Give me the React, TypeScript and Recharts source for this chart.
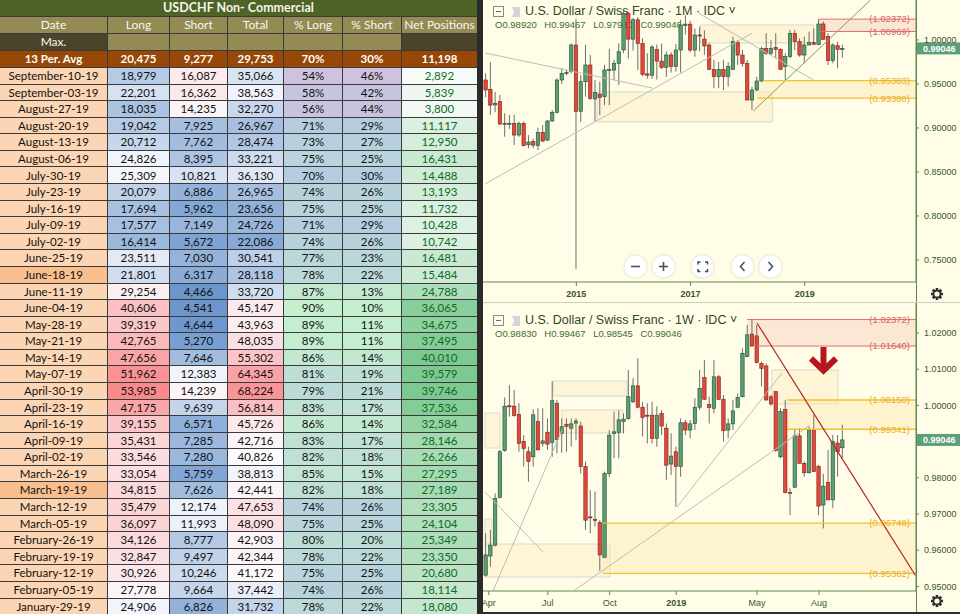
import React from 'react'
import { Bar, ComposedChart, ReferenceArea, ReferenceDot, ReferenceLine, XAxis, YAxis } from 'recharts'

// ---- COT table (USDCHF non-commercial) ----
const tableTitle = 'USDCHF Non- Commercial'
const tableHeaders = ['Date', 'Long', 'Short', 'Total', '% Long', '% Short', 'Net Positions']
const avgRow = ['13 Per. Avg', '20,475', '9,277', '29,753', '70%', '30%', '11,198']
const tableDates = [
  'September-10-19', 'September-03-19', 'August-27-19', 'August-20-19', 'August-13-19', 'August-06-19',
  'July-30-19', 'July-23-19', 'July-16-19', 'July-09-19', 'July-02-19', 'June-25-19', 'June-18-19',
  'June-11-19', 'June-04-19', 'May-28-19', 'May-21-19', 'May-14-19', 'May-07-19', 'April-30-19',
  'April-23-19', 'April-16-19', 'April-09-19', 'April-02-19', 'March-26-19', 'March-19-19', 'March-12-19',
  'March-05-19', 'February-26-19', 'February-19-19', 'February-12-19', 'February-05-19', 'January-29-19',
]
const markedDates = ['June-18-19', 'March-19-19']
const longVals = [18979, 22201, 18035, 19042, 20712, 24826, 25309, 20079, 17694, 17577, 16414, 23511, 21801, 29254, 40606, 39319, 42765, 47656, 51962, 53985, 47175, 39155, 35431, 33546, 33054, 34815, 35479, 36097, 34126, 32847, 30926, 27778, 24906]
const shortVals = [16087, 16362, 14235, 7925, 7762, 8395, 10821, 6886, 5962, 7149, 5672, 7030, 6317, 4466, 4541, 4644, 5270, 7646, 12383, 14239, 9639, 6571, 7285, 7280, 5759, 7626, 12174, 11993, 8777, 9497, 10246, 9664, 6826]
const totalVals = [35066, 38563, 32270, 26967, 28474, 33221, 36130, 26965, 23656, 24726, 22086, 30541, 28118, 33720, 45147, 43963, 48035, 55302, 64345, 68224, 56814, 45726, 42716, 40826, 38813, 42441, 47653, 48090, 42903, 42344, 41172, 37442, 31732]
const pctLong = [54, 58, 56, 71, 73, 75, 70, 74, 75, 71, 74, 77, 78, 87, 90, 89, 89, 86, 81, 79, 83, 86, 83, 82, 85, 82, 74, 75, 80, 78, 75, 74, 78]
const pctShort = [46, 42, 44, 29, 27, 25, 30, 26, 25, 29, 26, 23, 22, 13, 10, 11, 11, 14, 19, 21, 17, 14, 17, 18, 15, 18, 26, 25, 20, 22, 25, 26, 22]
const netVals = [2892, 5839, 3800, 11117, 12950, 16431, 14488, 13193, 11732, 10428, 10742, 16481, 15484, 24788, 36065, 34675, 37495, 40010, 39579, 39746, 37536, 32584, 28146, 26266, 27295, 27189, 23305, 24104, 25349, 23350, 20680, 18114, 18080]

// ---- USDCHF monthly, Jun 2013 .. Sep 2019: [open, high, low, close] ----
const monthlyCandles = [
  [0.9545, 0.962, 0.935, 0.9432], [0.944, 0.975, 0.915, 0.926], [0.9262, 0.941, 0.918, 0.928], [0.93, 0.9375, 0.9034, 0.9045],
  [0.9052, 0.9167, 0.8901, 0.9048], [0.905, 0.915, 0.899, 0.9054], [0.9053, 0.9148, 0.8807, 0.892], [0.892, 0.9072, 0.89, 0.9053],
  [0.9053, 0.9075, 0.879, 0.8799], [0.881, 0.892, 0.8769, 0.884], [0.8845, 0.888, 0.877, 0.8805], [0.88, 0.9004, 0.875, 0.8951],
  [0.8951, 0.9034, 0.884, 0.8852], [0.8863, 0.909, 0.885, 0.908], [0.908, 0.9205, 0.907, 0.9178], [0.9178, 0.9565, 0.9165, 0.9545],
  [0.9545, 0.968, 0.95, 0.9621], [0.962, 0.966, 0.96, 0.963], [0.964, 0.996, 0.962, 0.9943], [0.9943, 1.024, 0.74, 0.9186],
  [0.919, 0.96, 0.907, 0.9526], [0.9526, 0.9943, 0.9356, 0.9716], [0.9716, 0.983, 0.932, 0.9337], [0.933, 0.9545, 0.9072, 0.9405],
  [0.9386, 0.9526, 0.9148, 0.9348], [0.9356, 0.9716, 0.926, 0.9659], [0.9659, 0.99, 0.926, 0.9665], [0.9659, 0.9773, 0.9545, 0.9735],
  [0.9735, 0.9962, 0.9489, 0.9867], [0.9887, 1.034, 0.985, 1.03], [1.03, 1.032, 0.979, 1.001], [1.001, 1.025, 0.988, 1.023],
  [1.023, 1.026, 0.966, 0.996], [0.996, 1.002, 0.959, 0.961], [0.9615, 0.985, 0.956, 0.96], [0.96, 0.994, 0.956, 0.992],
  [0.989, 0.995, 0.955, 0.976], [0.976, 0.996, 0.967, 0.969], [0.969, 0.987, 0.958, 0.983], [0.983, 0.986, 0.963, 0.97],
  [0.97, 0.9955, 0.964, 0.9886], [0.9886, 1.023, 0.963, 1.0171], [1.0165, 1.028, 1.006, 1.018], [1.018, 1.022, 0.986, 0.9886],
  [0.9886, 1.013, 0.981, 1.0057], [1.0057, 1.015, 0.987, 1.0045], [1.001, 1.011, 0.983, 0.9932], [0.9943, 0.9962, 0.9659, 0.9666],
  [0.9666, 0.9773, 0.9451, 0.9583], [0.9583, 0.975, 0.945, 0.9666], [0.9666, 0.9773, 0.943, 0.9583], [0.9583, 0.975, 0.947, 0.9697],
  [0.9666, 1.0038, 0.9659, 0.9981], [0.997, 1.0, 0.9716, 0.9829], [0.9829, 0.9886, 0.9697, 0.9735], [0.9735, 0.9773, 0.9318, 0.9318],
  [0.9318, 0.947, 0.9205, 0.9432], [0.9432, 0.9583, 0.942, 0.9534], [0.9534, 0.9924, 0.9525, 0.9905], [0.9905, 1.0076, 0.9829, 0.9848],
  [0.9848, 0.9998, 0.983, 0.9905], [0.9916, 1.0076, 0.979, 0.9894], [0.9894, 0.9905, 0.966, 0.9666], [0.9697, 0.9848, 0.9545, 0.9811],
  [0.9811, 1.0114, 0.9792, 1.0076], [1.0076, 1.0114, 0.9886, 0.9981], [0.9981, 1.002, 0.981, 0.9829], [0.9829, 1.0038, 0.9735, 0.9943],
  [0.9943, 1.0095, 0.9943, 0.997], [0.997, 1.0133, 0.9943, 0.995], [0.995, 1.02372, 0.9943, 1.0182], [1.0182, 1.021, 1.0, 1.0008],
  [1.0038, 1.0076, 0.9716, 0.9765], [0.9765, 0.9962, 0.9735, 0.9943], [0.9935, 0.9981, 0.9678, 0.9894], [0.9892, 0.99467, 0.9798, 0.99046],
]

// ---- USDCHF weekly, Apr 2018 .. Sep 2019: [open, high, low, close] ----
const weeklyCandles = [
  [0.9531, 0.9647, 0.9527, 0.9587], [0.9584, 0.9656, 0.9554, 0.9614], [0.9614, 0.9757, 0.961, 0.9743], [0.9746, 0.9877, 0.9743, 0.9872],
  [0.9875, 1.0022, 0.9872, 0.9998], [0.9999, 1.0056, 0.9969, 0.9996], [0.9998, 1.0043, 0.9969, 0.9972], [0.9975, 1.0006, 0.9872, 0.9895],
  [0.99, 0.9918, 0.9831, 0.9881], [0.9872, 0.9886, 0.9789, 0.9845], [0.9858, 0.9989, 0.9831, 0.9974], [0.9955, 0.9992, 0.9877, 0.9877],
  [0.9895, 0.9992, 0.9886, 0.9902], [0.9926, 0.9964, 0.9877, 0.9893], [0.9897, 1.0067, 0.9858, 1.0013], [1.0006, 1.0015, 0.9868, 0.9906],
  [0.9923, 0.9964, 0.9869, 0.9941], [0.9948, 0.9964, 0.9872, 0.9942], [0.9937, 0.9964, 0.9886, 0.9949], [0.9951, 0.9964, 0.9904, 0.9957],
  [0.9943, 0.9955, 0.9812, 0.9831], [0.9831, 0.9845, 0.9656, 0.9683], [0.9692, 0.9766, 0.9647, 0.969], [0.9685, 0.9762, 0.9665, 0.9682],
  [0.9676, 0.9683, 0.9543, 0.9587], [0.958, 0.9817, 0.958, 0.9812], [0.9812, 0.9932, 0.9803, 0.9918], [0.9922, 0.9983, 0.9854, 0.9927],
  [0.9925, 0.9987, 0.9854, 0.996], [0.9955, 0.9978, 0.9923, 0.9962], [0.9964, 1.0098, 0.996, 1.0024], [1.001, 1.0075, 1.0006, 1.0054],
  [1.0054, 1.013, 0.9992, 0.9995], [0.9995, 1.001, 0.9914, 0.9967], [0.9973, 1.0006, 0.9895, 0.9971], [0.9973, 1.001, 0.9895, 0.9909],
  [0.9909, 0.9997, 0.9886, 0.9973], [0.9978, 0.9987, 0.9918, 0.9943], [0.9937, 0.995, 0.9794, 0.9835], [0.9838, 0.9923, 0.9808, 0.986],
  [0.9872, 0.9886, 0.972, 0.9831], [0.9831, 0.9964, 0.9803, 0.9952], [0.9952, 0.996, 0.9918, 0.9932], [0.9932, 0.996, 0.9909, 0.9949],
  [0.995, 1.002, 0.9932, 0.9995], [0.9995, 1.0098, 0.9987, 1.0047], [1.0077, 1.0125, 1.0015, 1.0017], [1.0003, 1.0024, 0.995, 0.9994],
  [0.9992, 1.0125, 0.9978, 1.0079], [1.0079, 1.0084, 1.0015, 1.0017], [1.0017, 1.0029, 0.99, 0.993], [0.9932, 0.9964, 0.9909, 0.9949],
  [0.9949, 1.0015, 0.9932, 0.9985], [0.9995, 1.0033, 0.9992, 1.0022], [1.0024, 1.0158, 1.0022, 1.0144], [1.0135, 1.0222, 1.0133, 1.0195],
  [1.0197, 1.02372, 1.0162, 1.0164], [1.0192, 1.0222, 1.0116, 1.0118], [1.0116, 1.0121, 1.0052, 1.0102], [1.0109, 1.0116, 1.0013, 1.0015],
  [1.0024, 1.0029, 0.9999, 1.0004], [1.0038, 1.0038, 0.9872, 0.9875], [0.9858, 0.9992, 0.9854, 0.9983], [0.9989, 1.0015, 0.9757, 0.9759],
  [0.976, 0.9771, 0.9697, 0.9758], [0.9774, 0.9934, 0.9771, 0.9916], [0.9916, 0.9937, 0.984, 0.984], [0.984, 0.9845, 0.9803, 0.9814],
  [0.9814, 0.9941, 0.9812, 0.9932], [0.9932, 0.9974, 0.9817, 0.9817], [0.9832, 0.9835, 0.9697, 0.9722], [0.9725, 0.9811, 0.966, 0.9777],
  [0.9787, 0.9877, 0.9739, 0.9739], [0.9739, 0.9918, 0.9716, 0.99], [0.9896, 0.9918, 0.9803, 0.9872], [0.9883, 0.99467, 0.98545, 0.99046],
]

const monthlyTicks = [19, 43, 67]
const monthlyTickLabels = ['2015', '2017', '2019']
const weeklyTicks = [0.6, 13, 26, 40, 57, 70]
const weeklyTickLabels = ['Apr', 'Jul', 'Oct', '2019', 'May', 'Aug']
const monthlyPriceTicks = [0.75, 0.8, 0.85, 0.9, 0.95, 1.0]
// 0.99 sits under the last-price tag in the weekly pane, so it is not shown
const weeklyPriceTicks = [0.95, 0.96, 0.97, 0.98, 1.0, 1.01, 1.02]
const lastPrice = 0.99046

// fib levels: [price, start index]
const monthlyRedLevels = [[1.02372, 69.9], [1.00969, 69.9]]
const monthlyYellowLevels = [[0.95383, 58.3], [0.93388, 57.05]]
const weeklyRedLevels = [[1.02372, 54.9], [1.0164, 57.0]]
const weeklyYellowLevels = [[1.0015, 63.3], [0.99341, 63.3]]
const weeklyLowYellowLevels = [[0.96748, 24.6], [0.95362, 24.6]]

// drawings: lines [x1, y1, x2, y2], boxes [x1, x2, y1, y2]
const monthlyLines = [[-0.2, 0.98523, 34.95, 0.94545], [-0.2, 0.83636, 56.0, 1.00795], [44.63, 1.03068, 68.84, 0.95455]]
const monthlyGreenLine = [56.21, 0.91932, 80.84, 1.04545]
const monthlyBoxes = [[23.37, 60.21, 0.94091, 0.90682], [45.05, 68.84, 1.01705, 0.99659]]
const weeklyLines = [[1.47, 0.94873, 15.98, 0.9932], [-0.2, 0.97608, 11.99, 0.9595], [18.71, 0.94901, 68.12, 0.99459], [40.16, 0.97193, 62.24, 1.00895]]
const weeklyRedLine = [56.98, 1.02276, 90.3, 0.953]
const weeklyBoxes = [[60.13, 74.01, 1.00978, 1.00039], [-0.2, 26.07, 0.96171, 0.9526], [-0.2, 2.94, 0.9979, 0.98823], [14.09, 29.65, 1.00674, 1.0026], [15.98, 28.81, 0.99873, 0.99238], [-0.2, 1.26, 0.96862, 0.96171]]
const weeklyArrow = [70.96, 1.01268]

const X_DOMAIN = [-0.63, 90.41]
const BG = '#fffde7'
const AXIS = '#5b8c4a'
const AXIS_TEXT = '#3a5528'
const TV_FONT = '"Liberation Sans", Arial, sans-serif'
const UP = '#5b9e72'
const DOWN = '#e3493b'

const toRows = (rows: number[][]) => rows.map(([o, h, l, c], i) => ({ i, o, h, l, c, range: [l, h] }))

function Candle(props: any) {
  const { x, y, width, height, payload } = props
  if (!payload) return null
  const { o, h, l, c } = payload
  const k = height / Math.max(h - l, 1e-9)
  const cx = x + width / 2
  const yo = y + (h - o) * k
  const yc = y + (h - c) * k
  const up = c >= o
  const top = Math.min(yo, yc)
  const bh = Math.max(1, Math.abs(yo - yc))
  return (
    <g>
      <line x1={cx} x2={cx} y1={y} y2={y + height} stroke="#6f6f6f" strokeWidth={1} />
      <rect x={cx - 1.7} y={top} width={3.4} height={bh} fill={up ? UP : DOWN} stroke={up ? '#1e4d2e' : '#7a1f16'} strokeWidth={0.6} />
    </g>
  )
}

const makeXTick = (ticks: number[], labels: string[]) => (props: any) => {
  const { x, y, payload } = props
  const label = labels[ticks.indexOf(payload.value)] ?? ''
  const bold = /^\d{4}$/.test(label)
  return (
    <text x={x} y={y + 9} textAnchor="middle" fill={AXIS_TEXT} fontSize={9} fontWeight={bold ? 700 : 400} fontFamily={TV_FONT}>
      {label}
    </text>
  )
}

const priceTag = (props: any) => {
  const vb = props.viewBox
  if (!vb) return null
  const x = vb.x + vb.width
  return (
    <g>
      <rect x={x + 1} y={vb.y - 6} width={44} height={12} fill="#5f9e7b" />
      <text x={x + 7} y={vb.y + 3.3} fill="#ffffff" fontSize={9} fontWeight={700} fontFamily={TV_FONT}>
        {lastPrice.toFixed(5)}
      </text>
    </g>
  )
}

const arrowShape = (props: any) => {
  const { cx, cy } = props
  return (
    <g fill="none" stroke="#b5171c" strokeWidth={6}>
      <line x1={cx} x2={cx} y1={cy - 12.5} y2={cy + 8} />
      <polyline points={`${cx - 12.5},${cy - 1} ${cx},${cy + 11} ${cx + 12.5},${cy - 1}`} strokeLinejoin="miter" />
    </g>
  )
}

const levelLabel = (text: string, fill: string) => ({ value: `(${text})`, position: 'insideRight' as const, offset: 6, fill, fontSize: 9.5, fontFamily: TV_FONT })

// ---- table ----
const hex = (h: string) => [1, 3, 5].map((s) => parseInt(h.slice(s, s + 2), 16))
function mix(a: string, b: string, t: number) {
  const A = hex(a)
  const B = hex(b)
  const u = Math.max(0, Math.min(1, t))
  return `rgb(${A.map((v, i) => Math.round(v + (B[i] - v) * u)).join(',')})`
}
function scale3(v: number, lo: number, mid: number, hi: number, cLo: string, cMid: string, cHi: string) {
  return v < mid ? mix(cMid, cLo, (mid - v) / (mid - lo)) : mix(cMid, cHi, (v - mid) / (hi - mid))
}
const BLUE = '#5a8ac6'
const WHITE = '#fcfcff'
const RED = '#f8696b'
const PURPLE = '#d4c0de'
const GREYBLUE = '#b4cbe0'
const GREEN = '#c6efce'

const colW = [107, 61, 57, 55, 58, 58, 75]
const fmt = (v: number) => v.toLocaleString('en-US')

function Cell({ bg, color = '#111', bold = false, span = 1, size = 11.5, children }: any) {
  return (
    <div
      style={{
        background: bg,
        color,
        fontWeight: bold ? 700 : 400,
        gridColumn: span > 1 ? `span ${span}` : undefined,
        display: 'flex',
        alignItems: 'center',
        justifyContent: 'center',
        textAlign: 'center',
        fontSize: size,
        fontFamily: 'Lato, "Noto Sans", sans-serif',
        lineHeight: 1,
        whiteSpace: 'nowrap',
        overflow: 'hidden',
      }}
    >
      {children}
    </div>
  )
}

function CotTable() {
  return (
    <div
      style={{
        position: 'absolute',
        left: 0,
        top: 0,
        width: 477,
        height: 614,
        overflow: 'hidden',
        display: 'grid',
        gridTemplateColumns: colW.map((w) => `${w}px`).join(' '),
        gridTemplateRows: `16px 16px 16px 16px repeat(${tableDates.length}, 15.59px)`,
        gap: 1,
        background: '#3a3a3a',
      }}
    >
      <Cell bg="#4f6228" color="#f4f4e8" bold span={7} size={12.5}>{tableTitle}</Cell>
      {tableHeaders.map((h) => (
        <Cell key={h} bg="#948a54" color="#f7f7f0" size={12}>{h}</Cell>
      ))}
      <Cell bg="#4a452a" color="#f7f7f0" size={12}>Max.</Cell>
      {[0, 1, 2, 3, 4].map((k) => (
        <Cell key={k} bg="#948a54" />
      ))}
      <Cell bg="#4a452a" />
      {avgRow.map((v, k) => (
        <Cell key={k} bg="#974706" color="#ffffff" bold>{v}</Cell>
      ))}
      {tableDates.map((d, r) => (
        <React.Fragment key={d}>
          <Cell bg={markedDates.includes(d) ? '#f9bf8f' : '#fcd5b4'}>{d}</Cell>
          <Cell bg={scale3(longVals[r], 10000, 26000, 62000, BLUE, WHITE, RED)}>{fmt(longVals[r])}</Cell>
          <Cell bg={scale3(shortVals[r], 3500, 13000, 38000, BLUE, WHITE, RED)}>{fmt(shortVals[r])}</Cell>
          <Cell bg={scale3(totalVals[r], 15000, 40500, 80000, BLUE, WHITE, RED)}>{fmt(totalVals[r])}</Cell>
          <Cell bg={scale3(pctLong[r], 50, 70, 90, PURPLE, GREYBLUE, GREEN)}>{pctLong[r]}%</Cell>
          <Cell bg={scale3(pctShort[r], 10, 30, 50, GREEN, GREYBLUE, PURPLE)}>{pctShort[r]}%</Cell>
          <Cell bg={mix('#ffffff', '#63be7b', netVals[r] / 48000)} color="#0b6b23">{fmt(netVals[r])}</Cell>
        </React.Fragment>
      ))}
    </div>
  )
}

// ---- chart chrome ----
function PaneHeader({ top, interval, ohlc }: { top: number; interval: string; ohlc: number[] }) {
  const [o, h, l, c] = ohlc
  return (
    <>
      <svg style={{ position: 'absolute', left: 493, top: top + 3 }} width={30} height={12}>
        <rect x={0.5} y={0.5} width={10} height={10} fill="none" stroke="#8a8a8a" />
        <line x1={3} x2={8} y1={5.5} y2={5.5} stroke="#6a6a6a" />
        <polygon points="19,1 27,1 27,11 19,11 21,6" fill="#d4d4dc" />
      </svg>
      <div style={{ position: 'absolute', left: 525, top, fontFamily: TV_FONT, fontSize: 12.5, color: '#33461f', whiteSpace: 'nowrap', lineHeight: '16px' }}>
        U.S. Dollar / Swiss Franc · {interval} · IDC ˅
      </div>
      <div style={{ position: 'absolute', left: 495, top: top + 15, fontFamily: TV_FONT, fontSize: 9.5, color: '#3e6b2f', whiteSpace: 'nowrap', wordSpacing: 5, lineHeight: '14px' }}>
        O{o.toFixed(5)} H{h.toFixed(5)} L{l.toFixed(5)} C{c.toFixed(5)}
      </div>
    </>
  )
}

function Gear({ left, top }: { left: number; top: number }) {
  return (
    <svg style={{ position: 'absolute', left, top }} width={14} height={14} viewBox="-7 -7 14 14">
      {[0, 45, 90, 135].map((a) => (
        <rect key={a} x={-1.3} y={-6} width={2.6} height={12} fill="#2e2e2e" transform={`rotate(${a})`} />
      ))}
      <circle r={4.3} fill="#2e2e2e" />
      <circle r={2.6} fill={BG} />
    </svg>
  )
}

function NavButtons() {
  const items = [635, 663, 702, 742, 770]
  const icons = [
    <line key="m" x1={7} x2={16} y1={11.5} y2={11.5} />,
    <g key="p"><line x1={7} x2={16} y1={11.5} y2={11.5} /><line x1={11.5} x2={11.5} y1={7} y2={16} /></g>,
    <path key="f" d="M7 9.5V7h2.5M14 7h2.5v2.5M16.5 14v2.5H14M9.5 16.5H7V14" />,
    <polyline key="l" points="13.5,7 9.5,11.5 13.5,16" />,
    <polyline key="r" points="9.5,7 13.5,11.5 9.5,16" />,
  ]
  return (
    <>
      {items.map((cx, k) => (
        <svg key={cx} style={{ position: 'absolute', left: cx - 11.5, top: 254.5, filter: 'drop-shadow(0 0 1.5px rgba(0,0,0,0.18))' }} width={23} height={23}>
          <circle cx={11.5} cy={11.5} r={11} fill="#ffffff" />
          <g fill="none" stroke="#4a5262" strokeWidth={1.6}>{icons[k]}</g>
        </svg>
      ))}
    </>
  )
}

const RED_LABEL = '#dd5f5f'
const YELLOW_LABEL = '#eeac22'

export default function App() {
  const mData = toRows(monthlyCandles)
  const wData = toRows(weeklyCandles)
  const xMax = X_DOMAIN[1]
  return (
    <div style={{ position: 'absolute', left: 0, top: 0, width: 960, height: 614, overflow: 'hidden', background: '#2b2b2b' }}>
      <CotTable />
      <div style={{ position: 'absolute', left: 483, top: 0, width: 477, height: 612, background: BG }} />
      <PaneHeader top={3} interval="1M" ohlc={monthlyCandles[monthlyCandles.length - 1]} />
      <PaneHeader top={312} interval="1W" ohlc={weeklyCandles[weeklyCandles.length - 1]} />

      <div style={{ position: 'absolute', left: 480, top: 0 }}>
        <ComposedChart width={480} height={303} data={mData} margin={{ top: 0, right: 0, bottom: 0, left: 3 }}>
          <XAxis
            dataKey="i"
            type="number"
            domain={X_DOMAIN}
            allowDataOverflow
            ticks={monthlyTicks}
            interval={0}
            height={21}
            tickSize={4}
            axisLine={{ stroke: AXIS }}
            tickLine={{ stroke: AXIS }}
            tick={makeXTick(monthlyTicks, monthlyTickLabels)}
          />
          <YAxis
            orientation="right"
            width={44}
            domain={[0.725, 1.04545]}
            allowDataOverflow
            ticks={monthlyPriceTicks}
            tickFormatter={(v: number) => v.toFixed(5)}
            tickSize={3}
            tickMargin={5}
            axisLine={{ stroke: AXIS }}
            tickLine={{ stroke: AXIS }}
            tick={{ fill: AXIS_TEXT, fontSize: 9, fontFamily: TV_FONT }}
          />
          {monthlyBoxes.map(([x1, x2, y1, y2], k) => (
            <ReferenceArea key={`mb${k}`} x1={x1} x2={x2} y1={y1} y2={y2} fill="#fcefc6" fillOpacity={0.55} stroke="#d9d9cf" strokeWidth={1} ifOverflow="hidden" />
          ))}
          <ReferenceArea x1={monthlyRedLevels[0][1]} x2={xMax} y1={monthlyRedLevels[0][0]} y2={monthlyRedLevels[1][0]} fill="#f5d3c4" fillOpacity={0.55} stroke="none" ifOverflow="hidden" />
          <ReferenceArea x1={monthlyYellowLevels[1][1]} x2={xMax} y1={monthlyYellowLevels[0][0]} y2={monthlyYellowLevels[1][0]} fill="#fbe9b5" fillOpacity={0.5} stroke="none" ifOverflow="hidden" />
          {monthlyLines.map(([x1, y1, x2, y2], k) => (
            <ReferenceLine key={`ml${k}`} segment={[{ x: x1, y: y1 }, { x: x2, y: y2 }]} stroke="#bdbdb3" strokeWidth={1} ifOverflow="hidden" />
          ))}
          <ReferenceLine segment={[{ x: monthlyGreenLine[0], y: monthlyGreenLine[1] }, { x: monthlyGreenLine[2], y: monthlyGreenLine[3] }]} stroke="#79a05c" strokeWidth={1} ifOverflow="hidden" />
          {monthlyRedLevels.map(([p, s]) => (
            <ReferenceLine key={`mr${p}`} segment={[{ x: s, y: p }, { x: xMax, y: p }]} stroke="#e07070" strokeWidth={1} label={levelLabel(p.toFixed(5), RED_LABEL)} />
          ))}
          {monthlyYellowLevels.map(([p, s]) => (
            <ReferenceLine key={`my${p}`} segment={[{ x: s, y: p }, { x: xMax, y: p }]} stroke="#f2c233" strokeWidth={1.3} label={levelLabel(p.toFixed(5), YELLOW_LABEL)} />
          ))}
          <Bar dataKey="range" barSize={4} shape={Candle} isAnimationActive={false} />
          <ReferenceLine y={lastPrice} stroke="none" label={priceTag} />
        </ComposedChart>
      </div>

      <div style={{ position: 'absolute', left: 480, top: 303 }}>
        <ComposedChart width={480} height={311} data={wData} margin={{ top: 0, right: 0, bottom: 0, left: 3 }}>
          <XAxis
            dataKey="i"
            type="number"
            domain={X_DOMAIN}
            allowDataOverflow
            ticks={weeklyTicks}
            interval={0}
            height={23}
            tickSize={4}
            axisLine={{ stroke: AXIS }}
            tickLine={{ stroke: AXIS }}
            tick={makeXTick(weeklyTicks, weeklyTickLabels)}
          />
          <YAxis
            orientation="right"
            width={44}
            domain={[0.94873, 1.02829]}
            allowDataOverflow
            ticks={weeklyPriceTicks}
            tickFormatter={(v: number) => v.toFixed(5)}
            tickSize={3}
            tickMargin={5}
            axisLine={{ stroke: AXIS }}
            tickLine={{ stroke: AXIS }}
            tick={{ fill: AXIS_TEXT, fontSize: 9, fontFamily: TV_FONT }}
          />
          {weeklyBoxes.map(([x1, x2, y1, y2], k) => (
            <ReferenceArea key={`wb${k}`} x1={x1} x2={x2} y1={y1} y2={y2} fill="#fcefc6" fillOpacity={0.55} stroke="#d9d9cf" strokeWidth={1} ifOverflow="hidden" />
          ))}
          <ReferenceArea x1={weeklyRedLevels[0][1]} x2={xMax} y1={weeklyRedLevels[0][0]} y2={weeklyRedLevels[1][0]} fill="#f5d3c4" fillOpacity={0.5} stroke="none" ifOverflow="hidden" />
          <ReferenceArea x1={weeklyYellowLevels[0][1]} x2={xMax} y1={weeklyYellowLevels[0][0]} y2={weeklyYellowLevels[1][0]} fill="#fbe9b5" fillOpacity={0.5} stroke="none" ifOverflow="hidden" />
          <ReferenceArea x1={weeklyLowYellowLevels[0][1]} x2={xMax} y1={weeklyLowYellowLevels[0][0]} y2={weeklyLowYellowLevels[1][0]} fill="#fbe9b5" fillOpacity={0.5} stroke="none" ifOverflow="hidden" />
          {weeklyLines.map(([x1, y1, x2, y2], k) => (
            <ReferenceLine key={`wl${k}`} segment={[{ x: x1, y: y1 }, { x: x2, y: y2 }]} stroke="#bdbdb3" strokeWidth={1} ifOverflow="hidden" />
          ))}
          {weeklyRedLevels.map(([p, s]) => (
            <ReferenceLine key={`wr${p}`} segment={[{ x: s, y: p }, { x: xMax, y: p }]} stroke="#e07070" strokeWidth={1} label={levelLabel(p.toFixed(5), RED_LABEL)} />
          ))}
          {[...weeklyYellowLevels, ...weeklyLowYellowLevels].map(([p, s]) => (
            <ReferenceLine key={`wy${p}`} segment={[{ x: s, y: p }, { x: xMax, y: p }]} stroke="#f2c233" strokeWidth={1.3} label={levelLabel(p.toFixed(5), YELLOW_LABEL)} />
          ))}
          <Bar dataKey="range" barSize={4} shape={Candle} isAnimationActive={false} />
          <ReferenceLine segment={[{ x: weeklyRedLine[0], y: weeklyRedLine[1] }, { x: weeklyRedLine[2], y: weeklyRedLine[3] }]} stroke="#b3262a" strokeWidth={1.2} ifOverflow="hidden" />
          <ReferenceDot x={weeklyArrow[0]} y={weeklyArrow[1]} r={0} shape={arrowShape} />
          <ReferenceLine y={lastPrice} stroke="none" label={priceTag} />
        </ComposedChart>
      </div>

      <NavButtons />
      <div style={{ position: 'absolute', left: 916, top: 0, width: 1, height: 612, background: AXIS }} />
      <div style={{ position: 'absolute', left: 483, top: 302, width: 477, height: 1, background: '#cfcfc4' }} />
      <div style={{ position: 'absolute', left: 477, top: 0, width: 6, height: 614, background: '#2b2b2b' }} />
      <div style={{ position: 'absolute', left: 483, top: 612, width: 477, height: 2, background: '#2b2b2b' }} />
      <Gear left={930} top={287} />
      <Gear left={930} top={594} />
    </div>
  )
}
